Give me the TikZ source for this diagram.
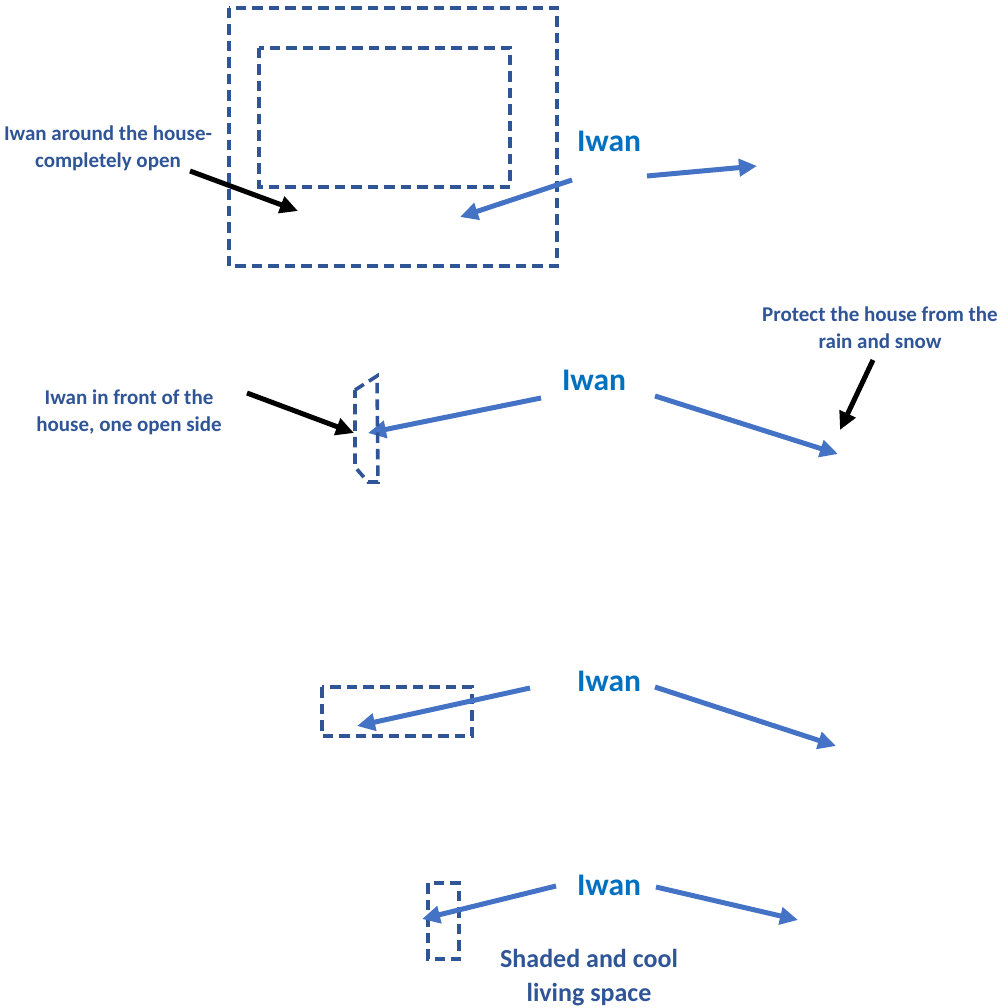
\documentclass[tikz,border=0pt]{standalone}
\usepackage{fontspec}
\setmainfont{Carlito}
\usetikzlibrary{arrows.meta}
\definecolor{lbl}{HTML}{2F5597}
\definecolor{iwanc}{HTML}{0070C0}
\definecolor{arr}{HTML}{4472C4}
\definecolor{dsh}{HTML}{2F5597}
\tikzset{
  lab/.style={text=lbl, font=\bfseries\fontsize{21}{27}\selectfont, align=center, inner sep=0pt},
  biglab/.style={text=lbl, font=\bfseries\fontsize{26}{34}\selectfont, align=center, inner sep=0pt},
  iwan/.style={text=iwanc, font=\bfseries\fontsize{31.5}{36}\selectfont, inner sep=0pt},
  barrow/.style={draw=arr, line width=5pt, -{Triangle[length=18pt,width=17pt]}},
  karrow/.style={draw=black, line width=5pt, -{Triangle[length=18pt,width=17pt]}},
  dbox/.style={draw=dsh, line width=3.6pt, dash pattern=on 10.5pt off 6pt}
}
\begin{document}
\begin{tikzpicture}[x=1pt,y=-1pt]
\useasboundingbox (0,0) rectangle (996,1008);
% group 1
\draw[dbox] (229,8) rectangle (557,266);
\draw[dbox] (259,48) rectangle (510,187);
\node[lab] (l1) at (108,148) {Iwan around the house-\\completely open};
\coordinate (k1s) at (190,171); \coordinate (k1e) at (298,211);
\draw[karrow] (k1s) -- (k1e);
\node[iwan] (i1) at (609,141) {Iwan};
\coordinate (a1s) at (572,180); \coordinate (a1e) at (460,217);
\coordinate (b1s) at (647,176); \coordinate (b1e) at (757,166);
\draw[barrow] (a1s) -- (a1e);
\draw[barrow] (b1s) -- (b1e);
% group 2
\node[lab] (l2) at (880,328) {Protect the house from the\\rain and snow};
\coordinate (k2s) at (873,360); \coordinate (k2e) at (840,430);
\draw[karrow] (k2s) -- (k2e);
\node[iwan] (i2) at (594,380) {Iwan};
\coordinate (a2s) at (541,398); \coordinate (a2e) at (368,433);
\coordinate (b2s) at (655,396); \coordinate (b2e) at (838,454);
\draw[barrow] (a2s) -- (a2e);
\draw[barrow] (b2s) -- (b2e);
\node[lab] (l3) at (129,412) {Iwan in front of the\\house, one open side};
\coordinate (k3s) at (247,393); \coordinate (k3e) at (354,433);
\draw[karrow] (k3s) -- (k3e);
\draw[dbox] (355,390) -- (377,376) -- (378,482) -- (368,482) -- (355,467) -- cycle;
% group 3
\draw[dbox] (322,687) rectangle (472,736);
\node[iwan] (i3) at (609,681) {Iwan};
\coordinate (a3s) at (530,688); \coordinate (a3e) at (357,726);
\coordinate (b3s) at (655,687); \coordinate (b3e) at (836,746);
\draw[barrow] (a3s) -- (a3e);
\draw[barrow] (b3s) -- (b3e);
% group 4
\draw[dbox] (428,883) rectangle (459,959);
\node[iwan] (i4) at (609,885) {Iwan};
\coordinate (a4s) at (556,886); \coordinate (a4e) at (422,919);
\coordinate (b4s) at (656,887); \coordinate (b4e) at (798,920);
\draw[barrow] (a4s) -- (a4e);
\draw[barrow] (b4s) -- (b4e);
\node[biglab] (l4) at (589,978) {Shaded and cool\\living space};
\end{tikzpicture}
\end{document}
